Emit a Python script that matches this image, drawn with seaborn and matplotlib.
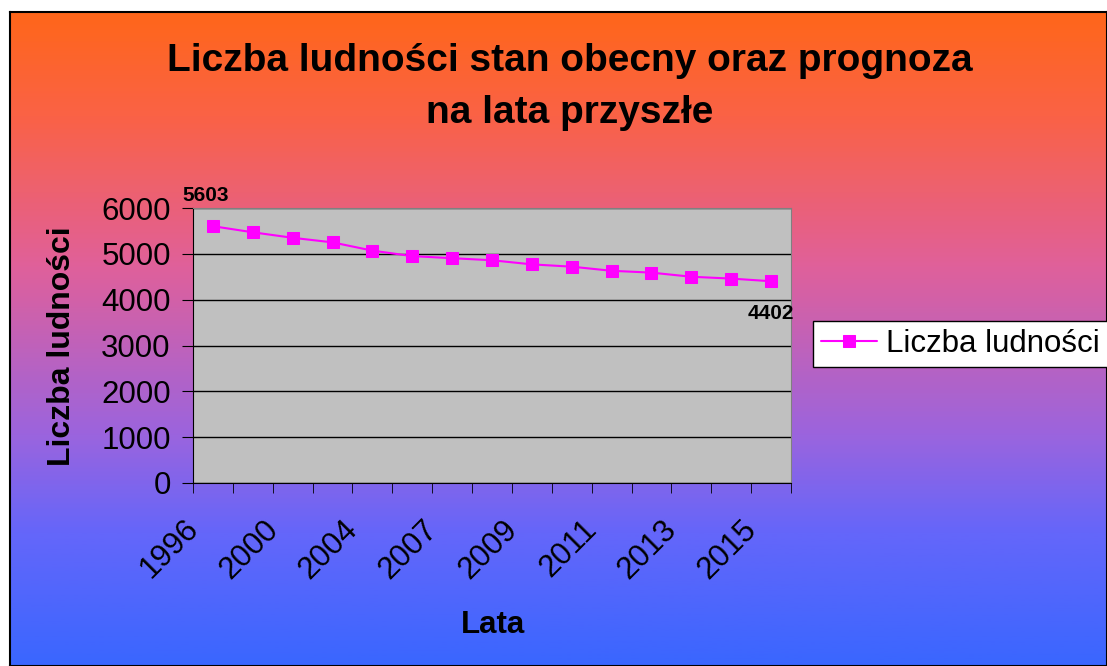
import numpy as np
import pandas as pd
import matplotlib.pyplot as plt
import matplotlib.transforms as mtransforms
import seaborn as sns
from matplotlib.colors import LinearSegmentedColormap

# dane
lata = ['1996', '1998', '2000', '2002', '2004', '2006', '2007', '2008',
        '2009', '2010', '2011', '2012', '2013', '2014', '2015']
ludnosc = [5603, 5470, 5350, 5250, 5070, 4950, 4905, 4860,
           4770, 4720, 4630, 4590, 4500, 4460, 4402]
y_ticks = [0, 1000, 2000, 3000, 4000, 5000, 6000]

df = pd.DataFrame({'Lata': lata, 'Liczba ludności': ludnosc})
df['nr'] = range(len(df))

sns.set_style('white')
plt.rcParams['font.family'] = ['Liberation Sans', 'DejaVu Sans']
plt.rcParams['text.color'] = 'black'
plt.rcParams['xtick.color'] = 'black'
plt.rcParams['ytick.color'] = 'black'

fig = plt.figure(figsize=(11.07, 6.66), dpi=100)

# tlo z gradientem (pomaranczowy -> niebieski)
bg = fig.add_axes([10/1107, 0, 1 - 10/1107, 654/666], zorder=-10)
tlo = LinearSegmentedColormap.from_list('tlo', [
    (0.0, '#ff661a'), (0.157, '#fa6246'), (0.387, '#e0609a'),
    (0.647, '#9b64de'), (0.8, '#6466fa'), (1.0, '#3a66ff')])
bg.imshow(np.linspace(0, 1, 400).reshape(-1, 1), aspect='auto', cmap=tlo)
bg.set_xticks([])
bg.set_yticks([])
for s in bg.spines.values():
    s.set_color('black')
    s.set_linewidth(1.5)

ax = fig.add_axes([193/1107, 183/666, 598/1107, 275/666])
ax.set_facecolor('#c0c0c0')
sns.lineplot(data=df, x='nr', y='Liczba ludności', marker='s', color='#ff00ff',
             markersize=8, markeredgecolor='#ff00ff', linewidth=1.5,
             label='Liczba ludności', ax=ax)

ax.set_xlim(-0.5, 14.5)
ax.set_ylim(0, 6000)
ax.set_yticks(y_ticks)
ax.set_yticklabels([str(v) for v in y_ticks], fontsize=22.5)
ax.set_xticks(df['nr'][::2])
ax.set_xticklabels(lata[::2], fontsize=22.5, rotation=45, ha='right',
                   va='center', rotation_mode='anchor')
ax.set_xticks(np.arange(-0.5, 15, 1), minor=True)
ax.tick_params(axis='x', which='major', length=0, pad=30)
ax.tick_params(axis='x', which='minor', length=7, direction='out', color='black', bottom=True)
ax.tick_params(axis='y', length=8, direction='out', color='black', left=True, pad=8)
# etykiety lat przesuniete w lewo jak w Excelu
przesun = mtransforms.ScaledTranslation(-19/100, 0, fig.dpi_scale_trans)
for lab in ax.get_xticklabels():
    lab.set_transform(lab.get_transform() + przesun)
ax.yaxis.grid(True, color='black', linewidth=1)
ax.set_axisbelow(True)
ax.set_xlabel('')
ax.set_ylabel('')
for k in ['left', 'bottom']:
    ax.spines[k].set_color('black')
for k in ['top', 'right']:
    ax.spines[k].set_color('#808080')

# etykiety danych
ax.annotate(str(ludnosc[0]), (0, ludnosc[0]), xytext=(-5, 22), textcoords='offset points',
            ha='center', va='center', fontsize=15, weight='bold')
ax.annotate(str(ludnosc[-1]), (14, ludnosc[-1]), xytext=(0, -23), textcoords='offset points',
            ha='center', va='center', fontsize=15, weight='bold')

ax.legend(loc='center left', bbox_to_anchor=(813/1107, (666-344)/666),
          bbox_transform=fig.transFigure, fontsize=22.5, frameon=True,
          fancybox=False, edgecolor='black', framealpha=1, borderaxespad=0,
          handlelength=1.8, handletextpad=0.3, borderpad=0.25)

fig.text(0.515, (666-87)/666, 'Liczba ludności stan obecny oraz prognoza\nna lata przyszłe',
         ha='center', va='center', fontsize=28, weight='bold', linespacing=1.6)
fig.text(62/1107, (666-346)/666, 'Liczba ludności', rotation=90, ha='center',
         va='center', fontsize=23, weight='bold')
fig.text(493/1107, (666-625)/666, 'Lata', ha='center', va='center',
         fontsize=22.5, weight='bold')

plt.savefig('out.png', dpi=100)
